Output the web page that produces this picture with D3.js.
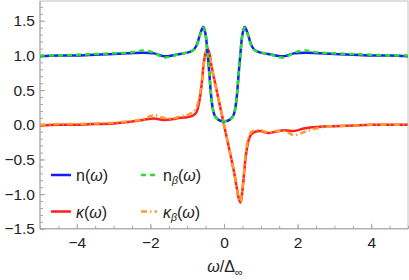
<html>
<head>
  <script src="https://d3js.org/d3.v7.min.js"></script>
  <style>
    body { margin: 0; background: #fff; }
    text { font-family: "Liberation Sans", Arial, sans-serif; }
  </style>
</head>
<body>
  <svg id="chart" width="409" height="280"></svg>
  <script>
    // frequency grid (omega / Delta_inf)
    const omega = [-5, -4.5, -4, -3.5, -3, -2.6, -2.2, -1.9, -1.65, -1.4, -1.2, -1.0, -0.85, -0.75, -0.67, -0.6, -0.56, -0.5, -0.45, -0.4, -0.35, -0.3, -0.25, -0.15, 0,
                   0.15, 0.25, 0.3, 0.35, 0.4, 0.45, 0.5, 0.56, 0.6, 0.67, 0.75, 0.85, 1.0, 1.2, 1.4, 1.65, 1.9, 2.2, 2.6, 3, 3.5, 4, 4.5, 5];

    const nVals = [0.99, 1.0, 1.0, 1.01, 1.02, 1.03, 1.04, 1.03, 0.99, 1.0, 1.02, 1.04, 1.07, 1.14, 1.27, 1.38, 1.41, 1.3, 1.05, 0.75, 0.42, 0.22, 0.13, 0.07, 0.05,
                   0.07, 0.13, 0.22, 0.42, 0.75, 1.05, 1.3, 1.41, 1.38, 1.27, 1.14, 1.07, 1.04, 1.02, 1.0, 0.99, 1.03, 1.04, 1.03, 1.02, 1.01, 1.0, 1.0, 0.99];

    const nBetaVals = [1.0, 1.0, 1.01, 1.02, 1.03, 1.04, 1.07, 1.04, 0.97, 0.99, 1.02, 1.04, 1.07, 1.13, 1.26, 1.37, 1.40, 1.3, 1.05, 0.75, 0.42, 0.22, 0.13, 0.07, 0.05,
                       0.07, 0.13, 0.22, 0.42, 0.75, 1.05, 1.3, 1.40, 1.37, 1.26, 1.13, 1.07, 1.04, 1.02, 0.99, 0.97, 1.04, 1.07, 1.04, 1.03, 1.02, 1.01, 1.0, 1.0];

    const kappaVals = [-0.01, 0.0, 0.0, 0.01, 0.02, 0.04, 0.07, 0.09, 0.07, 0.08, 0.10, 0.11, 0.13, 0.18, 0.34, 0.62, 0.84, 1.04, 1.10, 1.04, 0.88, 0.74, 0.62, 0.37, 0.0,
                       -0.37, -0.62, -0.76, -0.92, -1.06, -1.12, -0.95, -0.62, -0.42, -0.22, -0.13, -0.10, -0.09, -0.12, -0.10, -0.08, -0.09, -0.05, -0.03, -0.02, -0.01, 0.0, 0.0, 0.0];

    const kappaBetaVals = [0.0, 0.01, 0.01, 0.02, 0.03, 0.05, 0.08, 0.14, 0.10, 0.09, 0.12, 0.14, 0.18, 0.25, 0.40, 0.64, 0.84, 1.03, 1.09, 1.04, 0.88, 0.74, 0.62, 0.37, 0.0,
                           -0.37, -0.62, -0.76, -0.92, -1.06, -1.11, -0.92, -0.58, -0.38, -0.18, -0.10, -0.08, -0.08, -0.11, -0.09, -0.09, -0.15, -0.10, -0.04, -0.02, -0.01, 0.0, 0.0, 0.0];

    const xTicks = [-4, -2, 0, 2, 4];
    const yTicks = [-1.5, -1.0, -0.5, 0.0, 0.5, 1.0, 1.5];

    const svg = d3.select("#chart");

    const x = d3.scaleLinear().domain([-5, 5]).range([40, 408]);
    const y = d3.scaleLinear().domain([-1.5, 1.785]).range([228.8, 1]);

    const frameColor = "#a6a6a6";

    // frame
    svg.append("rect")
      .attr("x", x(-5)).attr("y", y(1.785))
      .attr("width", x(5) - x(-5)).attr("height", y(-1.5) - y(1.785))
      .attr("fill", "none").attr("stroke", "#c0c0c0").attr("stroke-width", 1);

    // ticks (pointing inward)
    const fmt = d => d.toFixed(1).replace("-", "\u2212");

    const yAxis = d3.axisLeft(y)
      .tickValues(d3.range(-15, 18).map(d => d / 10))
      .tickSize(-3)
      .tickFormat("");
    svg.append("g").attr("transform", `translate(${x(-5)},0)`).call(yAxis)
      .call(g => g.select(".domain").remove())
      .selectAll("line").attr("stroke", frameColor);

    svg.append("g").attr("transform", `translate(${x(-5)},0)`)
      .call(d3.axisLeft(y).tickValues(yTicks).tickSize(-5).tickPadding(5).tickFormat(fmt))
      .call(g => g.select(".domain").attr("stroke", frameColor).attr("d", `M0,${y(-1.5)}V${y(1.785)}`))
      .call(g => g.selectAll("line").attr("stroke", frameColor))
      .call(g => g.selectAll("text").attr("font-size", 15.5).attr("fill", "#222"));

    svg.append("g").attr("transform", `translate(0,${y(-1.5)})`)
      .call(d3.axisBottom(x).tickValues(d3.range(-10, 11).map(d => d / 2)).tickSize(-3).tickFormat(""))
      .call(g => g.select(".domain").remove())
      .selectAll("line").attr("stroke", frameColor);

    svg.append("g").attr("transform", `translate(0,${y(-1.5)})`)
      .call(d3.axisBottom(x).tickValues(xTicks).tickSize(-5).tickPadding(8).tickFormat(d => String(d).replace("-", "\u2212")))
      .call(g => g.select(".domain").attr("stroke", frameColor).attr("d", `M${x(-5)},0H${x(5)}`))
      .call(g => g.selectAll("line").attr("stroke", frameColor))
      .call(g => g.selectAll("text").attr("font-size", 15.5).attr("fill", "#222"));

    // curves
    const plotArea = svg.append("g");
    svg.append("clipPath").attr("id", "clip").append("rect")
      .attr("x", x(-5)).attr("y", y(1.785)).attr("width", x(5) - x(-5)).attr("height", y(-1.5) - y(1.785));
    plotArea.attr("clip-path", "url(#clip)");

    const series = [
      { vals: kappaVals, color: "#ff1f1f", dash: null },
      { vals: kappaBetaVals, color: "#ff9a2e", dash: "6,3,1.5,3" },
      { vals: nVals, color: "#1a1aff", dash: null },
      { vals: nBetaVals, color: "#22e622", dash: "5,4" }
    ];

    const line = d3.line()
      .x((d, i) => x(omega[i]))
      .y(d => y(d))
      .curve(d3.curveCatmullRom.alpha(0.5));

    series.forEach(s => {
      plotArea.append("path")
        .datum(s.vals)
        .attr("d", line)
        .attr("fill", "none")
        .attr("stroke", s.color)
        .attr("stroke-width", 2.5)
        .attr("stroke-dasharray", s.dash);
    });

    // x axis label
    const xl = svg.append("text")
      .attr("x", 225).attr("y", 272)
      .attr("text-anchor", "middle")
      .attr("font-size", 16)
      .attr("fill", "#222");
    xl.append("tspan").attr("font-style", "italic").text("\u03c9");
    xl.append("tspan").text("/\u0394");
    xl.append("tspan").attr("font-size", 11).attr("dy", 4).text("\u221e");

    // legend
    const legend = [
      { label: [["n", ""], ["(", ""], ["\u03c9", "italic"], [")", ""]], sub: null, color: "#1a1aff", dash: null, lx: 51, ly: 175 },
      { label: [["\u03ba", "italic"], ["(", ""], ["\u03c9", "italic"], [")", ""]], sub: null, color: "#ff1f1f", dash: null, lx: 51, ly: 211.5 },
      { label: [["n", ""]], sub: "\u03b2", color: "#22e622", dash: "5,4", lx: 141, ly: 175 },
      { label: [["\u03ba", "italic"]], sub: "\u03b2", color: "#ff9a2e", dash: "6,3,1.5,3", lx: 141, ly: 211.5 }
    ];

    legend.forEach(l => {
      const short = l.sub !== null;
      svg.append("line")
        .attr("x1", l.lx).attr("x2", l.lx + (short ? 16 : 20))
        .attr("y1", l.ly).attr("y2", l.ly)
        .attr("stroke", l.color).attr("stroke-width", 2.5)
        .attr("stroke-dasharray", l.dash);
      const t = svg.append("text")
        .attr("x", l.lx + (short ? 22 : 25)).attr("y", l.ly + 6)
        .attr("font-size", 16).attr("fill", "#222");
      l.label.forEach(p => t.append("tspan").attr("font-style", p[1] || null).text(p[0]));
      if (short) {
        t.append("tspan").attr("font-size", 10.5).attr("font-style", "italic").attr("dy", 3).text(l.sub);
        t.append("tspan").attr("dy", -3).text("(");
        t.append("tspan").attr("font-style", "italic").text("\u03c9");
        t.append("tspan").text(")");
      }
    });
  </script>
</body>
</html>
